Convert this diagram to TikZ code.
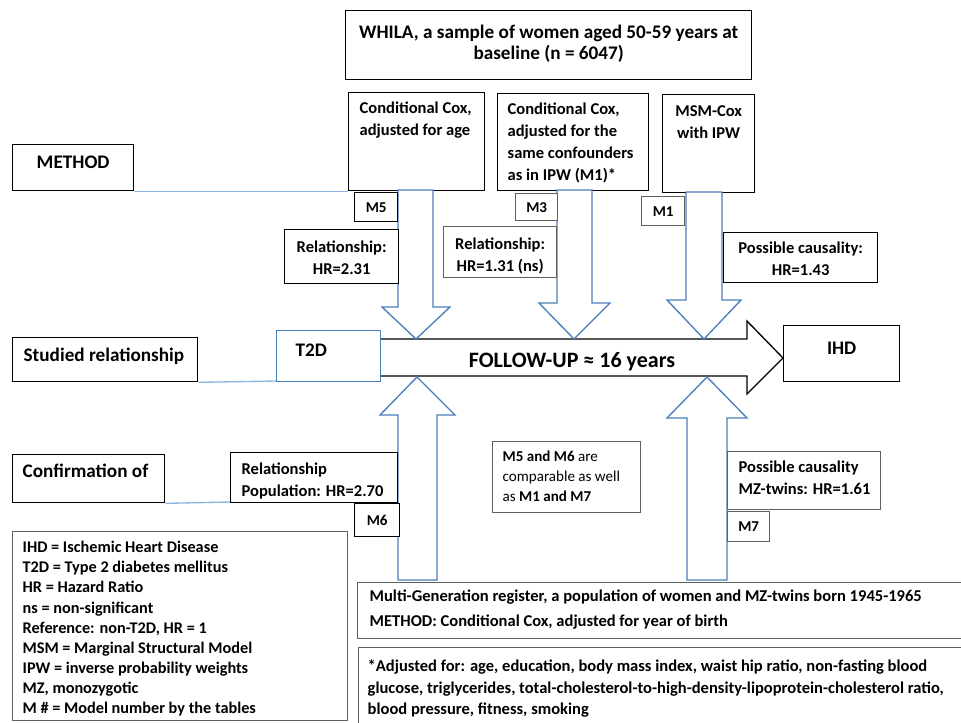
\documentclass[tikz,border=0pt]{standalone}
\usepackage{fontspec}
\setmainfont{Carlito}
\newlength\px \setlength\px{0.75pt}
\definecolor{arrblue}{HTML}{4A7EBB}
\definecolor{lnblue}{HTML}{8DB4E2}
\definecolor{bxgray}{HTML}{606060}
\newcommand\ibox[5]{\parbox[c][#2\px][t]{#1\px}{#4\rule{0pt}{#3\px}#5\par}}
\newcommand\lft[1]{\raggedright\leftskip=#1\px\relax}
\newcommand\fm{\fontsize{12.4}{16.5}\selectfont\bfseries}
\newcommand\fw{\fontsize{14.4}{15.75}\selectfont\bfseries}
\newcommand\fl{\fontsize{14.4}{17}\selectfont\bfseries}
\newcommand\fg{\fontsize{12.2}{15.1}\selectfont\bfseries}
\newcommand\fn{\fontsize{11.3}{15}\selectfont}
\newcommand\fs{\fontsize{12.4}{18.5}\selectfont\bfseries}
\newcommand\ff{\fontsize{12.4}{16}\selectfont\bfseries}
\begin{document}
\begin{tikzpicture}[x=0.75pt,y=-0.75pt,
  box/.style={draw, fill=white, inner sep=0pt, anchor=north west, line width=1pt},
  gbox/.style={box, draw=bxgray},
  mbox/.style={draw, fill=white, inner sep=0pt, anchor=north west, line width=1pt, font=\fontsize{11.3}{13}\selectfont\bfseries},
  barrow/.style={draw=arrblue, fill=white, line width=1pt, line join=miter},
  bigarrow/.style={draw=black, fill=white, line width=1pt, line join=miter},
  conn/.style={draw=lnblue, line width=1pt}]
\useasboundingbox (0,0) rectangle (961,722);
\fill[white] (0,0) rectangle (961,722);

% top box
\node[box] (whila) at (345,10) {\ibox{406}{69}{28}{\fw\centering}{WHILA, a sample of women aged 50-59 years at\\ baseline (n = 6047)}};

% left labels
\node[box] (method) at (12,144) {\ibox{121}{46}{24}{\fl\centering}{METHOD}};
\node[box] (studied) at (12,337) {\ibox{185}{44}{24}{\fl\lft{11}}{Studied relationship}};
\node[box] (confirm) at (12,454) {\ibox{152}{48}{23}{\fl\lft{10}}{Confirmation of}};

% method boxes
\node[box] (b1) at (348,92) {\ibox{136}{98}{21}{\fm\lft{11}}{Conditional Cox,\\ adjusted for age}};
\node[box] (b2) at (497,93) {\ibox{151}{97}{21}{\fm\lft{10}}{Conditional Cox,\\ adjusted for the\\ same confounders\\ as in IPW (M1)*}};
\node[box] (b3) at (662,94) {\ibox{92}{98}{22}{\fm\centering}{MSM-Cox\\ with IPW}};

% connectors from labels
\draw[conn] (method.south east) -- (b1.south west);
\coordinate (t2dsw) at (276,381);
\draw[conn] (studied.south east) -- (t2dsw);
\coordinate (rpsw) at (230,502);
\draw[conn] (confirm.south east) -- (rpsw);

% big follow-up arrow
\draw[bigarrow] (380,339) -- (747,339) -- (747,321) -- (783,358) -- (747,394) -- (747,376) -- (380,376) -- cycle;
\node[anchor=base, inner sep=0pt] (fu) at (572,367) {\fontsize{16.5}{20}\selectfont\bfseries FOLLOW-UP ≈ 16 years};

% down arrows
\draw[barrow] (398,190) -- (398,307) -- (382,307) -- (416,339) -- (450,307) -- (433,307) -- (433,190) -- cycle;
\draw[barrow] (557,190) -- (557,303) -- (539,303) -- (574,339) -- (610,303) -- (592,303) -- (592,190) -- cycle;
\draw[barrow] (686,192) -- (686,300) -- (667,300) -- (704,339) -- (741,300) -- (722,300) -- (722,192) -- cycle;
% up arrows
\draw[barrow] (398,580) -- (398,415) -- (380,415) -- (417,377) -- (455,415) -- (437,415) -- (437,580) -- cycle;
\draw[barrow] (687,580) -- (687,418) -- (667,418) -- (707,377) -- (747,418) -- (727,418) -- (727,580) -- cycle;

% T2D and IHD
\node[box, draw=arrblue] (t2d) at (276,330) {\ibox{104}{51}{26}{\fl\lft{19}}{T2D}};
\node[box] (ihd) at (783,325) {\ibox{116}{56}{29}{\fl\centering}{IHD}};

% model labels
\node[mbox, minimum width=43\px, minimum height=29\px] (m5) at (354,192) {M5};
\node[mbox, draw=bxgray, minimum width=42\px, minimum height=27\px] (m3) at (515,193) {M3};
\node[mbox, draw=bxgray, minimum width=43\px, minimum height=29\px] (m1) at (641,196) {M1};
\node[mbox, minimum width=45\px, minimum height=33\px] (m6) at (354,503) {M6};
\node[mbox, draw=bxgray, minimum width=42\px, minimum height=30\px] (m7) at (727,511) {M7};

% relationship boxes
\node[box] (r1) at (284,229) {\ibox{114}{54}{23}{\fm\centering}{Relationship:\\ HR=2.31}};
\node[gbox] (r2) at (443,226) {\ibox{113}{51}{23}{\fm\centering}{Relationship:\\ HR=1.31 (ns)}};
\node[box] (r3) at (723,232) {\ibox{154}{50}{21}{\fm\centering}{Possible causality:\\ HR=1.43}};
\node[box] (rp) at (230,452) {\ibox{167}{50}{22}{\fm\lft{11}}{Relationship\\ Population: HR=2.70}};
\node[gbox] (pc) at (727,451) {\ibox{153}{58}{21}{\fm\lft{11}}{Possible causality\\ MZ-twins: HR=1.61}};

% note
\node[gbox] (note) at (492,441) {\ibox{148}{71}{20}{\fn\lft{10}}{\textbf{M5 and M6} are\\ comparable as well\\ as \textbf{M1 and M7}}};

% legend
\node[gbox] (legend) at (12,531) {\ibox{335}{189}{21}{\fg\lft{10}}{IHD = Ischemic Heart Disease\\ T2D = Type 2 diabetes mellitus\\ HR = Hazard Ratio\\ ns = non-significant\\ Reference: non-T2D, HR = 1\\ MSM = Marginal Structural Model\\ IPW = inverse probability weights\\ MZ, monozygotic\\ M \# = Model number by the tables}};

% bottom boxes
\node[gbox] (mgr) at (357,582) {\ibox{620}{56}{19}{\fs\lft{12}}{Multi-Generation register, a population of women and MZ-twins born 1945-1965\\ METHOD: Conditional Cox, adjusted for year of birth}};
\node[gbox] (foot) at (358,647) {\ibox{620}{80}{24}{\ff\lft{9}}{*Adjusted for: age, education, body mass index, waist hip ratio, non-fasting blood\\ glucose, triglycerides, total-cholesterol-to-high-density-lipoprotein-cholesterol ratio,\\ blood pressure, fitness, smoking}};
\end{tikzpicture}
\end{document}
